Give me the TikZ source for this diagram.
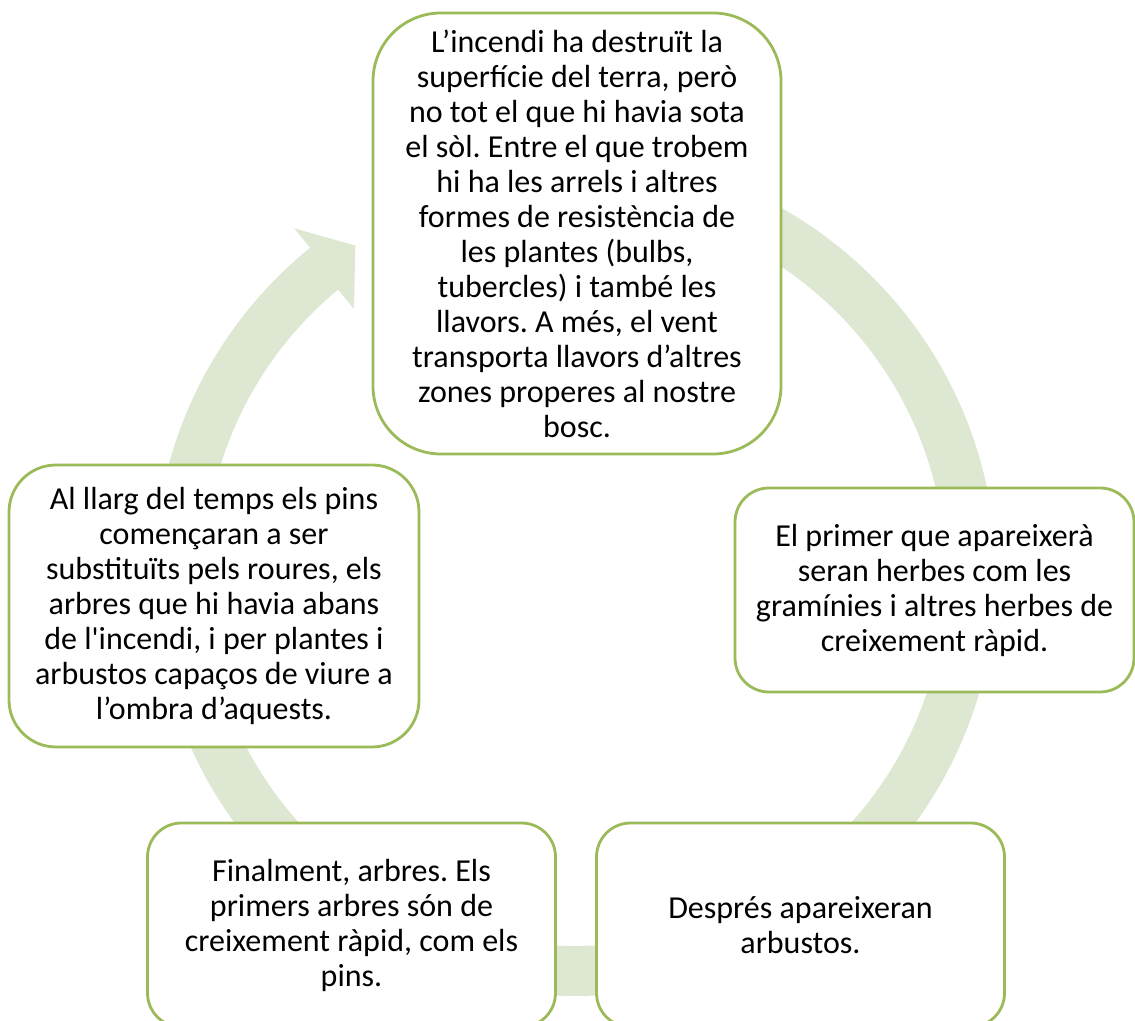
\documentclass[tikz,border=0pt]{standalone}
\usepackage{fontspec}
\setmainfont{Carlito}
\definecolor{vora}{HTML}{9BBB59}
\definecolor{cicle}{HTML}{DEE7D1}
\frenchspacing

\begin{document}
\begin{tikzpicture}[x=1pt, y=1pt,
    stage/.style={draw=vora, line width=2.8pt, fill=white, rectangle, rounded corners=34pt,
        inner sep=0pt, align=center, minimum width=408pt, minimum height=204pt,
        font=\fontsize{32}{35}\selectfont}]
    \useasboundingbox (0,0) rectangle (1135,1020);
    \clip (0,0) rectangle (1135,1020);

    % Fletxa circular del fons
    \begin{scope}[shift={(575,445)}]
        \fill[cicle] (90:421) arc[start angle=90, end angle=-231, radius=421]
            -- (-231:446) -- (-236.3:396) -- (-230.3:346)
            -- (-230.3:371) arc[start angle=-230.3, end angle=90, radius=371] -- cycle;
    \end{scope}

    % Definir nodes
    \node [stage, rounded corners=68pt, minimum height=441pt] (incendi) at (577,786.5)
        {L’incendi ha destruït la\\superfície del terra, però\\no tot el que hi havia sota\\el sòl. Entre el que trobem\\hi ha les arrels i altres\\formes de resistència de\\les plantes (bulbs,\\tubercles) i també les\\llavors. A més, el vent\\transporta llavors d’altres\\zones properes al nostre\\bosc.};
    \node [stage, minimum width=399pt] (herbes) at (934.5,430)
        {El primer que apareixerà\\seran herbes com les\\gramínies i altres herbes de\\creixement ràpid.};
    \node [stage] (arbustos) at (800.5,95)
        {Després apareixeran\\arbustos.};
    \node [stage] (pins) at (351.5,95)
        {Finalment, arbres. Els\\primers arbres són de\\creixement ràpid, com els\\pins.};
    \node [stage, rounded corners=47pt, minimum width=410pt, minimum height=282pt] (roures) at (214,414)
        {Al llarg del temps els pins\\començaran a ser\\substituïts pels roures, els\\arbres que hi havia abans\\de l\textquotesingle incendi, i per plantes i\\arbustos capaços de viure a\\l’ombra d’aquests.};
\end{tikzpicture}
\end{document}
